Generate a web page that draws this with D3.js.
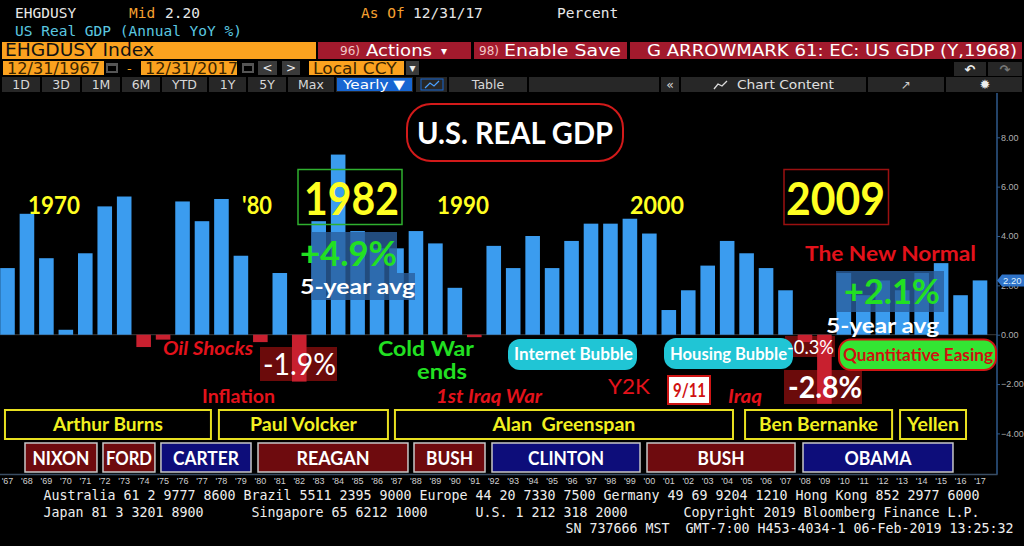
<!DOCTYPE html>
<html>
<head>
<meta charset="utf-8">
<script src="https://cdn.jsdelivr.net/npm/d3@7"></script>
<style>
html, body { margin: 0; padding: 0; background: #000; overflow: hidden; }
svg { display: block; }
text { white-space: pre; }
</style>
</head>
<body>
<svg id="chart" width="1024" height="546"></svg>
<script>
// yearly real GDP growth, % YoY (EHGDUSY)
var years = [1967, 1968, 1969, 1970, 1971, 1972, 1973, 1974, 1975, 1976,
             1977, 1978, 1979, 1980, 1981, 1982, 1983, 1984, 1985, 1986,
             1987, 1988, 1989, 1990, 1991, 1992, 1993, 1994, 1995, 1996,
             1997, 1998, 1999, 2000, 2001, 2002, 2003, 2004, 2005, 2006,
             2007, 2008, 2009, 2010, 2011, 2012, 2013, 2014, 2015, 2016, 2017];
var gdpGrowth = [2.7, 4.9, 3.1, 0.2, 3.3, 5.2, 5.6, -0.5, -0.2, 5.4,
                 4.6, 5.5, 3.2, -0.3, 2.5, -1.9, 4.6, 7.3, 4.2, 3.5,
                 3.5, 4.2, 3.7, 1.9, -0.1, 3.6, 2.7, 4.0, 2.7, 3.8,
                 4.5, 4.5, 4.7, 4.1, 1.0, 1.8, 2.8, 3.8, 3.3, 2.7,
                 1.8, -0.3, -2.8, 2.5, 1.6, 2.2, 1.8, 2.5, 2.9, 1.6, 2.2];
var yTicks = [-4, -2, 0, 2, 4, 6, 8];
var lastValue = 2.20;

// who sat where (spans in years)
var fedChairs = ["Arthur Burns", "Paul Volcker", "Alan  Greenspan", "Ben Bernanke", "Yellen"];
var fedSpans = [[1966.87, 1977.46], [1977.87, 1986.56], [1986.92, 2004.30], [2004.92, 2012.48], [2012.89, 2016.28]];
var presidents = ["NIXON", "FORD", "CARTER", "REAGAN", "BUSH", "CLINTON", "BUSH", "OBAMA"];
var presParty = ["R", "R", "D", "R", "R", "D", "R", "D"];
var presSpans = [[1967.90, 1971.60], [1971.91, 1974.58], [1974.89, 1979.52], [1979.88, 1987.59],
                 [1987.90, 1991.55], [1991.91, 1999.52], [1999.88, 2007.49], [2007.90, 2015.61]];

var blue = "#3b9cef", red = "#c8202f", orange = "#fba21f", dkred = "#6b0b0b";
var mono = "DejaVu Sans Mono";

var svg = d3.select("#chart");
svg.append("rect").attr("width", 1024).attr("height", 546).attr("fill", "#000");

function txt(g, s, o) {
  var t = g.append("text")
    .attr("x", o.x).attr("y", o.y).attr("dy", "0.35em")
    .attr("font-family", o.font || "Lato")
    .attr("font-size", o.size)
    .attr("font-weight", o.weight || "bold")
    .attr("fill", o.color)
    .text(s);
  if (o.italic) t.attr("font-style", "italic");
  if (o.anchor) t.attr("text-anchor", o.anchor);
  if (o.w) t.attr("textLength", o.w).attr("lengthAdjust", "spacingAndGlyphs");
  return t;
}

// ---- header ----
var head = svg.append("g");
txt(head, "EHGDUSY", {x: 15, y: 12.5, size: 14.5, font: mono, weight: "normal", color: "#e8e8e8"});
txt(head, "Mid", {x: 129, y: 12.5, size: 14.5, font: mono, weight: "normal", color: "#f5a030"});
txt(head, "2.20", {x: 165, y: 12.5, size: 14.5, font: mono, weight: "normal", color: "#e8e8e8"});
txt(head, "As Of", {x: 361, y: 12.5, size: 14.5, font: mono, weight: "normal", color: "#f5a030"});
txt(head, "12/31/17", {x: 413, y: 12.5, size: 14.5, font: mono, weight: "normal", color: "#e8e8e8"});
txt(head, "Percent", {x: 557, y: 12.5, size: 14.5, font: mono, weight: "normal", color: "#e8e8e8"});
txt(head, "US Real GDP (Annual YoY %)", {x: 15, y: 31, size: 14.5, font: mono, weight: "normal", color: "#5bc8e0"});

// row 3
head.append("rect").attr("x", 2).attr("y", 42).attr("width", 314).attr("height", 17).attr("fill", orange);
txt(head, "EHGDUSY Index", {x: 5, y: 50.5, size: 17, font: "DejaVu Sans", weight: "normal", color: "#111", w: 149});
[[318, 471], [474, 627], [630, 1022]].forEach(function (s) {
  head.append("rect").attr("x", s[0]).attr("y", 42).attr("width", s[1] - s[0]).attr("height", 17).attr("fill", "#a21a2d");
});
txt(head, "96)", {x: 340, y: 50.5, size: 13, font: "DejaVu Sans", weight: "normal", color: "#f2c6c6", w: 20});
txt(head, "Actions", {x: 366, y: 50.5, size: 16, font: "DejaVu Sans", weight: "normal", color: "#fff", w: 66});
txt(head, "\u25BE", {x: 441, y: 50.5, size: 12, font: "DejaVu Sans", weight: "normal", color: "#fff"});
txt(head, "98)", {x: 479, y: 50.5, size: 13, font: "DejaVu Sans", weight: "normal", color: "#f2c6c6", w: 20});
txt(head, "Enable Save", {x: 504, y: 50.5, size: 16, font: "DejaVu Sans", weight: "normal", color: "#fff", w: 117});
txt(head, "G ARROWMARK 61: EC: US GDP (Y,1968)", {x: 647, y: 50.5, size: 16, font: "DejaVu Sans", weight: "normal", color: "#fff", w: 370});

// row 4
[[3, 104, "12/31/1967"], [141, 237, "12/31/2017"], [309, 404, "Local CCY"]].forEach(function (s) {
  head.append("rect").attr("x", s[0]).attr("y", 61).attr("width", s[1] - s[0]).attr("height", 14).attr("fill", orange);
  txt(head, s[2], {x: s[0] + 4, y: 68.5, size: 15, font: "DejaVu Sans", weight: "normal", color: "#3b2500", w: s[2].length * 9.3});
});
[106, 242].forEach(function (cx) {
  head.append("rect").attr("x", cx).attr("y", 63).attr("width", 12).attr("height", 10).attr("fill", "#555");
  head.append("rect").attr("x", cx + 2).attr("y", 66).attr("width", 8).attr("height", 5).attr("fill", "#000");
});
txt(head, "-", {x: 127, y: 68, size: 13, font: "DejaVu Sans", weight: "normal", color: orange});
[[258, 277, "<"], [282, 300, ">"], [406, 419, "\u25BE"]].forEach(function (s) {
  head.append("rect").attr("x", s[0]).attr("y", 61).attr("width", s[1] - s[0]).attr("height", 14).attr("fill", "#3a3a3a");
  txt(head, s[2], {x: (s[0] + s[1]) / 2, y: 68, size: 12, font: "DejaVu Sans", weight: "normal", color: "#eee", anchor: "middle"});
});
[[954, 986, "\u21B6", "#eee"], [988, 1022, "\u21B7", "#777"]].forEach(function (s) {
  head.append("rect").attr("x", s[0]).attr("y", 62).attr("width", s[1] - s[0]).attr("height", 14).attr("fill", "#262626");
  txt(head, s[2], {x: (s[0] + s[1]) / 2, y: 69, size: 13, font: "DejaVu Sans", weight: "bold", color: s[3], anchor: "middle"});
});

// row 5
var cells = [[2, 40, "1D"], [42, 80, "3D"], [82, 120, "1M"], [122, 160, "6M"], [162, 207, "YTD"],
             [209, 246, "1Y"], [248, 286, "5Y"], [288, 334, "Max"], [336, 413, ""], [416, 447, ""],
             [449, 527, "Table"], [529, 659, ""], [661, 679, "\u00AB"], [681, 866, ""], [868, 944, ""], [946, 1022, ""]];
cells.forEach(function (c) {
  head.append("rect").attr("x", c[0]).attr("y", 77).attr("width", c[1] - c[0]).attr("height", 15).attr("fill", "#272727");
  if (c[2]) txt(head, c[2], {x: (c[0] + c[1]) / 2, y: 84.5, size: 12.5, font: "DejaVu Sans", weight: "normal", color: "#d8d8d8", anchor: "middle"});
});
head.append("rect").attr("x", 337).attr("y", 78).attr("width", 75).attr("height", 13).attr("fill", "#1766d2");
txt(head, "Yearly \u25BC", {x: 343, y: 84.5, size: 13, font: "DejaVu Sans", weight: "normal", color: "#fff", w: 62});
head.append("rect").attr("x", 421).attr("y", 79).attr("width", 22).attr("height", 11).attr("fill", "none").attr("stroke", "#1766d2");
head.append("polyline").attr("points", "425,88 430,83 434,86 439,81").attr("fill", "none").attr("stroke", "#4aa0ff").attr("stroke-width", 1.2);
head.append("polyline").attr("points", "714,89 718,84 722,86 727,81").attr("fill", "none").attr("stroke", "#ddd").attr("stroke-width", 1.3);
txt(head, "Chart Content", {x: 737, y: 84.5, size: 13, font: "DejaVu Sans", weight: "normal", color: "#e0e0e0", w: 97});
txt(head, "\u2197", {x: 906, y: 84.5, size: 12, font: "DejaVu Sans", weight: "normal", color: "#ccc", anchor: "middle"});
txt(head, "\u2739", {x: 985, y: 84.5, size: 13, font: "DejaVu Sans", weight: "normal", color: "#eee", anchor: "middle"});

// ---- plot ----
var x = d3.scaleBand().domain(years).range([0.2, 987.3]).paddingInner(0.25).paddingOuter(0);
var y = d3.scaleLinear().domain([-4, 8]).range([433.4, 137.3]);
var bw = x.bandwidth();
var xc = d3.scaleLinear().domain([1967, 2017]).range([x(1967) + bw / 2, x(2017) + bw / 2]);

var plot = svg.append("g");
plot.append("line").attr("x1", 0).attr("x2", 997).attr("y1", y(0)).attr("y2", y(0))
  .attr("stroke", "#3a3a3a").attr("stroke-width", 1);

// dark red value boxes sit behind the bars
var backBoxes = [[260, 347, 77, 34], [785, 336, 50, 21], [784, 370, 78, 34]];
backBoxes.forEach(function (b) {
  plot.append("rect").attr("x", b[0]).attr("y", b[1]).attr("width", b[2]).attr("height", b[3]).attr("fill", dkred);
});

var bars = years.map(function (yr, i) { return {year: yr, value: gdpGrowth[i]}; });
plot.append("g").selectAll("rect")
  .data(bars)
  .join("rect")
  .attr("x", function (d) { return x(d.year); })
  .attr("width", bw)
  .attr("y", function (d) { return y(Math.max(0, d.value)); })
  .attr("height", function (d) { return Math.abs(y(d.value) - y(0)); })
  .attr("fill", function (d) { return d.value < 0 ? red : blue; });

// 5-year average shading
[[311, 232, 86, 68], [397, 273, 18, 27], [836, 271, 108, 41]].forEach(function (b) {
  plot.append("rect").attr("x", b[0]).attr("y", b[1]).attr("width", b[2]).attr("height", b[3])
    .attr("fill", "#2a5f9e").attr("opacity", 0.8);
});

// frame + axes
plot.append("line").attr("x1", 997).attr("x2", 997).attr("y1", 93).attr("y2", 474.5).attr("stroke", "#2f5a8c").attr("stroke-width", 1.5);
plot.append("line").attr("x1", 0).attr("x2", 997.5).attr("y1", 474.5).attr("y2", 474.5).attr("stroke", "#3a4d63").attr("stroke-width", 1.5);

var yAxis = plot.append("g").attr("transform", "translate(997,0)")
  .call(d3.axisRight(y).tickValues(yTicks).tickFormat(d3.format(".2f")).tickSize(3).tickPadding(1));
yAxis.select(".domain").remove();
yAxis.selectAll("line").attr("stroke", "#2f5a8c");
yAxis.selectAll("text").attr("fill", "#b0b0b0").attr("font-family", "Liberation Sans").attr("font-size", 9);

// last value marker, drawn over the 2.00 label as on the terminal
var lv = y(lastValue);
plot.append("polygon")
  .attr("points", [[997, lv], [1002, lv - 6], [1024, lv - 6], [1024, lv + 6], [1002, lv + 6]].join(" "))
  .attr("fill", "#2f73c8");
txt(plot, lastValue.toFixed(2), {x: 1003, y: lv, size: 9.5, font: "Liberation Sans", weight: "normal", color: "#dff0ff"});

var xAxis = plot.append("g").attr("transform", "translate(0,474.5)")
  .call(d3.axisBottom(x).tickFormat(function (d) { return "'" + String(d).slice(2); }).tickSize(0).tickPadding(3));
xAxis.select(".domain").remove();
xAxis.selectAll("text").attr("fill", "#d0d0d0").attr("font-family", "Liberation Sans").attr("font-size", 9);

// ---- annotations ----
var notes = svg.append("g");
notes.append("rect").attr("x", 407).attr("y", 104).attr("width", 216).attr("height", 57).attr("rx", 24)
  .attr("fill", "#000").attr("stroke", "#d21a1a").attr("stroke-width", 2);
txt(notes, "U.S. REAL GDP", {x: 417, y: 133.5, size: 30, color: "#fff", w: 196});

notes.append("rect").attr("x", 298).attr("y", 169.5).attr("width", 104).attr("height", 55)
  .attr("fill", "none").attr("stroke", "#2fb02f").attr("stroke-width", 1.5);
notes.append("rect").attr("x", 784).attr("y", 169.5).attr("width", 104.5).attr("height", 55)
  .attr("fill", "none").attr("stroke", "#9b1010").attr("stroke-width", 1.5);

var pills = [[508, 339, 129, 31, "#20c5d5", "none"], [664, 338, 129, 31, "#20c5d5", "none"], [839, 339.5, 157, 30.5, "#33e533", "#d01515"]];
pills.forEach(function (p) {
  notes.append("rect").attr("x", p[0]).attr("y", p[1]).attr("width", p[2]).attr("height", p[3]).attr("rx", 12)
    .attr("fill", p[4]).attr("stroke", p[5]).attr("stroke-width", 2);
});
notes.append("rect").attr("x", 668).attr("y", 376).attr("width", 42).attr("height", 28)
  .attr("fill", "#fff").attr("stroke", "#d01515").attr("stroke-width", 2);

var yel = "#ffff22", grn = "#22e022", rd = "#e3121b";
var labels = [
  ["1970", {x: 28, y: 205, size: 25, color: yel, w: 52}],
  ["'80", {x: 242, y: 205, size: 25, color: yel, w: 30}],
  ["1990", {x: 437, y: 205, size: 25, color: yel, w: 52}],
  ["2000", {x: 630, y: 205, size: 25, color: yel, w: 54}],
  ["1982", {x: 304, y: 198.5, size: 46, color: yel, w: 95}],
  ["2009", {x: 786, y: 198.5, size: 46, color: yel, w: 99}],
  ["+4.9%", {x: 300, y: 254, size: 34, color: grn, w: 97}],
  ["5-year avg", {x: 300, y: 287, size: 21, color: "#fff", w: 115}],
  ["The New Normal", {x: 805, y: 254, size: 21, color: rd, w: 171}],
  ["+2.1%", {x: 844, y: 292, size: 35, color: grn, w: 96}],
  ["5-year avg", {x: 826, y: 326, size: 21, color: "#fff", w: 113}],
  ["Oil Shocks", {x: 163, y: 348, size: 19, color: rd, w: 90, italic: true}],
  ["-1.9%", {x: 263, y: 364, size: 31, color: "#fff", w: 73, weight: "normal"}],
  ["Inflation", {x: 202, y: 396, size: 19, color: rd, w: 73}],
  ["Cold War", {x: 378, y: 349, size: 21, color: grn, w: 96}],
  ["ends", {x: 417, y: 372, size: 21, color: grn, w: 50}],
  ["Internet Bubble", {x: 514, y: 354.5, size: 16.5, color: "#fff", w: 119}],
  ["Housing Bubble", {x: 670, y: 354, size: 16.5, color: "#fff", w: 117}],
  ["-0.3%", {x: 787, y: 347, size: 19, color: "#fff", w: 47, weight: "normal"}],
  ["Quantitative Easing", {x: 843, y: 355, size: 16.5, color: "#d01010", w: 150}],
  ["-2.8%", {x: 788, y: 387, size: 31, color: "#fff", w: 74}],
  ["1st Iraq War", {x: 436, y: 396, size: 19, color: rd, w: 106, italic: true}],
  ["Y2K", {x: 608, y: 387, size: 21, color: rd, w: 42, weight: "normal"}],
  ["9/11", {x: 673, y: 390, size: 19, color: "#d01010", w: 33}],
  ["Iraq", {x: 728, y: 396, size: 19, color: rd, w: 34, italic: true}]
];
labels.forEach(function (l) { txt(notes, l[0], l[1]); });

// Fed chairs row
var fedW = [110, 107, 143, 119, 52];
fedChairs.forEach(function (name, i) {
  var x0 = xc(fedSpans[i][0]), x1 = xc(fedSpans[i][1]);
  notes.append("rect").attr("x", x0).attr("y", 410).attr("width", x1 - x0).attr("height", 29)
    .attr("fill", "#000").attr("stroke", "#e8e020").attr("stroke-width", 2);
  txt(notes, name, {x: (x0 + x1) / 2, y: 425, size: 18.5, color: "#f2f020", anchor: "middle", w: fedW[i]});
});

// presidents row
var presW = [57, 46, 66, 73, 47, 76, 47, 67];
presidents.forEach(function (name, i) {
  var x0 = xc(presSpans[i][0]), x1 = xc(presSpans[i][1]);
  notes.append("rect").attr("x", x0).attr("y", 443).attr("width", x1 - x0).attr("height", 29)
    .attr("fill", presParty[i] === "R" ? "#6e0b0e" : "#0d0d7a").attr("stroke", "#c8c8c8").attr("stroke-width", 1.5);
  txt(notes, name, {x: (x0 + x1) / 2, y: 458, size: 19, color: "#fff", anchor: "middle", w: presW[i]});
});

// ---- footer ----
var foot = svg.append("g");
var fo = {size: 13.3, font: mono, weight: "normal", color: "#eeeeee"};
function footLine(s, x0, yy) { txt(foot, s, Object.assign({x: x0, y: yy, w: s.length * 8.0}, fo)); }
footLine("Australia 61 2 9777 8600 Brazil 5511 2395 9000 Europe 44 20 7330 7500 Germany 49 69 9204 1210 Hong Kong 852 2977 6000", 43.5, 495.5);
footLine("Japan 81 3 3201 8900", 43.5, 512);
footLine("Singapore 65 6212 1000", 251.5, 512);
footLine("U.S. 1 212 318 2000", 475.5, 512);
footLine("Copyright 2019 Bloomberg Finance L.P.", 683.5, 512);
footLine("SN 737666 MST  GMT-7:00 H453-4034-1 06-Feb-2019 13:25:32", 565.5, 528.5);
</script>
</body>
</html>
